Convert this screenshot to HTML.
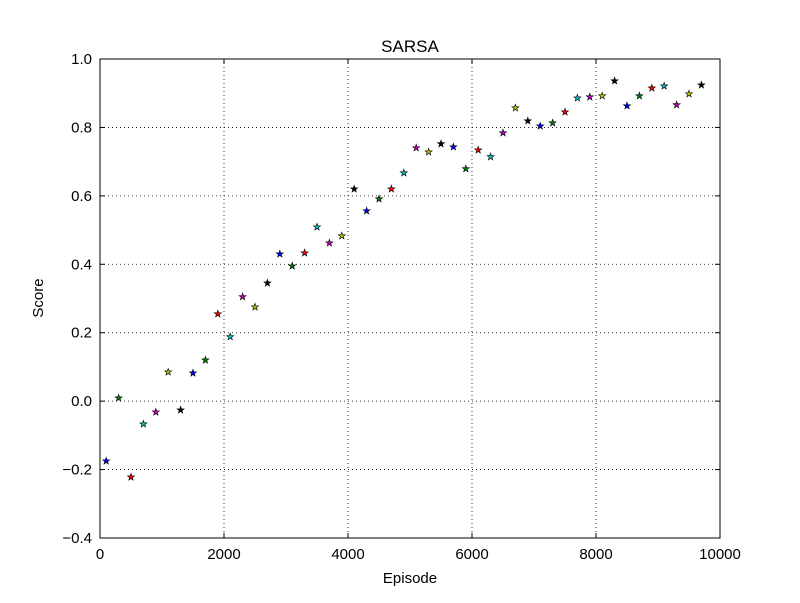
<!DOCTYPE html>
<html><head><meta charset="utf-8"><style>
body{margin:0;background:#fff;width:800px;height:598px;overflow:hidden}
svg text{font-family:"Liberation Sans","DejaVu Sans",sans-serif}
</style></head><body>
<svg id="chart" width="800" height="598" xmlns="http://www.w3.org/2000/svg">
<rect width="800" height="598" fill="#fff"/>
<text x="410" y="52" font-size="17" text-anchor="middle">SARSA</text>
<g id="grid"></g><g id="pts"></g>
<rect x="100" y="59" width="620" height="479" fill="none" stroke="#000" stroke-width="1"/>
<g id="ticks"></g>
<text x="410" y="583" font-size="15" text-anchor="middle">Episode</text>
<text x="43" y="298" font-size="15" text-anchor="middle" transform="rotate(-90 43 298)">Score</text>
</svg>
<script>
const episodes=[100,300,500,700,900,1100,1300,1500,1700,1900,2100,2300,2500,2700,2900,3100,3300,3500,3700,3900,4100,4300,4500,4700,4900,5100,5300,5500,5700,5900,6100,6300,6500,6700,6900,7100,7300,7500,7700,7900,8100,8300,8500,8700,8900,9100,9300,9500,9700];
const scores=[-0.175,0.009,-0.222,-0.067,-0.032,0.085,-0.026,0.082,0.12,0.255,0.188,0.305,0.275,0.345,0.43,0.395,0.433,0.509,0.462,0.483,0.62,0.556,0.591,0.62,0.667,0.74,0.728,0.752,0.743,0.679,0.734,0.714,0.784,0.857,0.819,0.804,0.813,0.845,0.886,0.889,0.892,0.936,0.863,0.892,0.915,0.921,0.866,0.898,0.924];
const xTicks=[0,2000,4000,6000,8000,10000];
const yTicks=[-0.4,-0.2,0.0,0.2,0.4,0.6,0.8,1.0];
const colors=['#0000ff','#008000','#ff0000','#00bfbf','#bf00bf','#bfbf00','#000000'];
const X0=100,X1=720,Y0=538,Y1=59;
const sx=v=>X0+(v/10000)*(X1-X0);
const sy=v=>Y0-(v+0.4)/1.4*(Y0-Y1);
const NS='http://www.w3.org/2000/svg';
const grid=document.getElementById('grid'),ticks=document.getElementById('ticks'),pts=document.getElementById('pts');
function mk(t,a,p){const e=document.createElementNS(NS,t);for(const k in a)e.setAttribute(k,a[k]);p.appendChild(e);return e;}
xTicks.forEach(v=>{const x=sx(v);
 if(v>0&&v<10000){const g=mk('line',{x1:x,x2:x,y1:Y1,y2:Y0,stroke:'#000','stroke-dasharray':'1,3','stroke-width':0.8},grid);
 
 }
 mk('line',{x1:x,x2:x,y1:Y0,y2:Y0-5,stroke:'#000'},ticks);mk('line',{x1:x,x2:x,y1:Y1,y2:Y1+5,stroke:'#000'},ticks);
 const t=mk('text',{x:x,y:Y0+21,'font-size':15,'text-anchor':'middle'},ticks);t.textContent=String(v);
 
 });
yTicks.forEach(v=>{const y=sy(v);
 if(v>-0.4&&v<1.0){const g=mk('line',{x1:X0,x2:X1,y1:y,y2:y,stroke:'#000','stroke-dasharray':'1,3','stroke-width':0.8},grid);
 
 }
 mk('line',{x1:X0,x2:X0+5,y1:y,y2:y,stroke:'#000'},ticks);mk('line',{x1:X1,x2:X1-5,y1:y,y2:y,stroke:'#000'},ticks);
 const t=mk('text',{x:X0-8,y:y+5,'font-size':15,'text-anchor':'end'},ticks);t.textContent=(v<0?'\u2212':'')+Math.abs(v).toFixed(1);
 
 });
function star(cx,cy,r){let p=[];for(let i=0;i<10;i++){const a=-Math.PI/2+i*Math.PI/5,rr=i%2?r*0.4:r;p.push((cx+rr*Math.cos(a)).toFixed(2)+','+(cy+rr*Math.sin(a)).toFixed(2));}return p.join(' ');}
episodes.forEach((e,i)=>{const s=mk('polygon',{points:star(sx(e),sy(scores[i]),3.7),fill:colors[i%7],stroke:'#000','stroke-width':0.6},pts);
 
 });
</script>
</body></html>
